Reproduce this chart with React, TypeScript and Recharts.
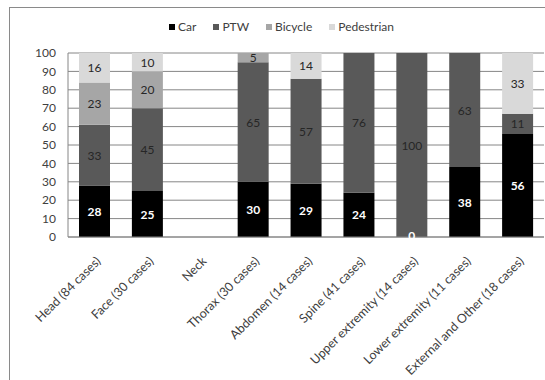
import { BarChart, Bar, XAxis, YAxis, CartesianGrid, Legend, LabelList } from "recharts";

const CATEGORIES = [
    "Head (84 cases)",
    "Face (30 cases)",
    "Neck",
    "Thorax (30 cases)",
    "Abdomen (14 cases)",
    "Spine (41 cases)",
    "Upper extremity (14 cases)",
    "Lower extremity (11 cases)",
    "External and Other (18 cases)",
];

const CAR = [28, 25, null, 30, 29, 24, 0, 38, 56];
const PTW = [33, 45, null, 65, 57, 76, 100, 63, 11];
const BICYCLE = [23, 20, null, 5, null, null, null, null, null];
const PEDESTRIAN = [16, 10, null, null, 14, null, null, null, 33];

const Y_TICKS = [0, 10, 20, 30, 40, 50, 60, 70, 80, 90, 100];

const SERIES = [
    { key: "car", label: "Car", color: "#000000", text: "#ffffff" },
    { key: "ptw", label: "PTW", color: "#595959", text: "#262626" },
    { key: "bicycle", label: "Bicycle", color: "#a6a6a6", text: "#262626" },
    { key: "pedestrian", label: "Pedestrian", color: "#d9d9d9", text: "#262626" },
] as const;

const data = CATEGORIES.map((name, i) => ({
    name,
    car: CAR[i],
    ptw: PTW[i],
    bicycle: BICYCLE[i],
    pedestrian: PEDESTRIAN[i],
}));

const FONT = "Lato, 'Open Sans', sans-serif";
const AXIS_GREY = "#868686";

function AngledTick({ x, y, payload }: any) {
    const tx = x + 7;
    const ty = y + 17;
    return (
        <text
            x={tx}
            y={ty}
            transform={`rotate(-45, ${tx}, ${ty})`}
            textAnchor="end"
            fontSize={12.5}
            fill="#404040"
            fontFamily={FONT}
        >
            {payload.value}
        </text>
    );
}

// centred value label; a (near) zero-height segment shows its "0" sitting on the axis
function makeSegmentLabel(fill: string, weight: number) {
    return (props: any) => {
        const { x, y, width, height, value } = props;
        if (value === null || value === undefined) return null;
        const cy = Math.abs(height) <= 1 ? y - 1 : y + height / 2;
        return (
            <text
                x={x + width / 2}
                y={cy}
                textAnchor="middle"
                dominantBaseline="central"
                fontSize={12}
                fontWeight={weight}
                fill={fill}
                fontFamily={FONT}
            >
                {value}
            </text>
        );
    };
}

// zero-height wrapper so the legend doesn't push the plot down
function TopLegend() {
    return (
        <div style={{ position: "relative", height: 0 }}>
            <div
                style={{
                    position: "absolute",
                    top: 0,
                    left: 0,
                    width: 545,
                    display: "flex",
                    justifyContent: "center",
                    gap: 17,
                    paddingLeft: 18,
                    boxSizing: "border-box",
                    fontSize: 12,
                    color: "#404040",
                    fontFamily: FONT,
                    whiteSpace: "nowrap",
                }}
            >
                {SERIES.map((s) => (
                    <span key={s.key} style={{ display: "inline-flex", alignItems: "center" }}>
                        <span style={{ width: 6, height: 6, background: s.color, marginRight: 3, display: "inline-block" }} />
                        {s.label}
                    </span>
                ))}
            </div>
        </div>
    );
}

export default function App() {
    return (
        <div
            style={{
                position: "fixed",
                left: 0,
                top: 0,
                width: 545,
                height: 380,
                overflow: "hidden",
                background: "#fff",
                fontFamily: FONT,
            }}
        >
            <div
                style={{
                    position: "absolute",
                    left: 9,
                    top: 7,
                    width: 600,
                    height: 420,
                    border: "1px solid #8a8a8a",
                }}
            />
            <div style={{ position: "absolute", left: 0, top: 0 }}>
                <BarChart
                    width={545}
                    height={380}
                    data={data}
                    margin={{ top: 53, right: 1, left: 28, bottom: 0 }}
                >
                    <CartesianGrid vertical={false} stroke={AXIS_GREY} />
                    <XAxis
                        dataKey="name"
                        interval={0}
                        height={143}
                        tickLine={false}
                        axisLine={{ stroke: AXIS_GREY }}
                        tick={<AngledTick />}
                    />
                    {/* hidden twin axis: carries the Car value labels above the stacked segments */}
                    <XAxis xAxisId="labels" dataKey="name" hide />
                    <YAxis
                        width={40}
                        domain={[0, 100]}
                        ticks={Y_TICKS}
                        interval={0}
                        allowDataOverflow
                        tickLine={false}
                        tickSize={4}
                        tickMargin={8}
                        axisLine={{ stroke: AXIS_GREY }}
                        tick={{ fontSize: 12, fill: "#404040", fontFamily: FONT }}
                    />
                    <Legend verticalAlign="top" wrapperStyle={{ top: 19, left: 0, width: 545 }} content={<TopLegend />} />
                    {SERIES.map((s) => (
                        <Bar key={s.key} dataKey={s.key} stackId="a" fill={s.color} barSize={31} isAnimationActive={false}>
                            {s.key !== "car" && (
                                <LabelList dataKey={s.key} content={makeSegmentLabel(s.text, 400)} />
                            )}
                        </Bar>
                    ))}
                    <Bar
                        xAxisId="labels"
                        dataKey="car"
                        fill="transparent"
                        barSize={31}
                        minPointSize={1}
                        legendType="none"
                        isAnimationActive={false}
                    >
                        <LabelList dataKey="car" content={makeSegmentLabel("#ffffff", 700)} />
                    </Bar>
                </BarChart>
            </div>
        </div>
    );
}
